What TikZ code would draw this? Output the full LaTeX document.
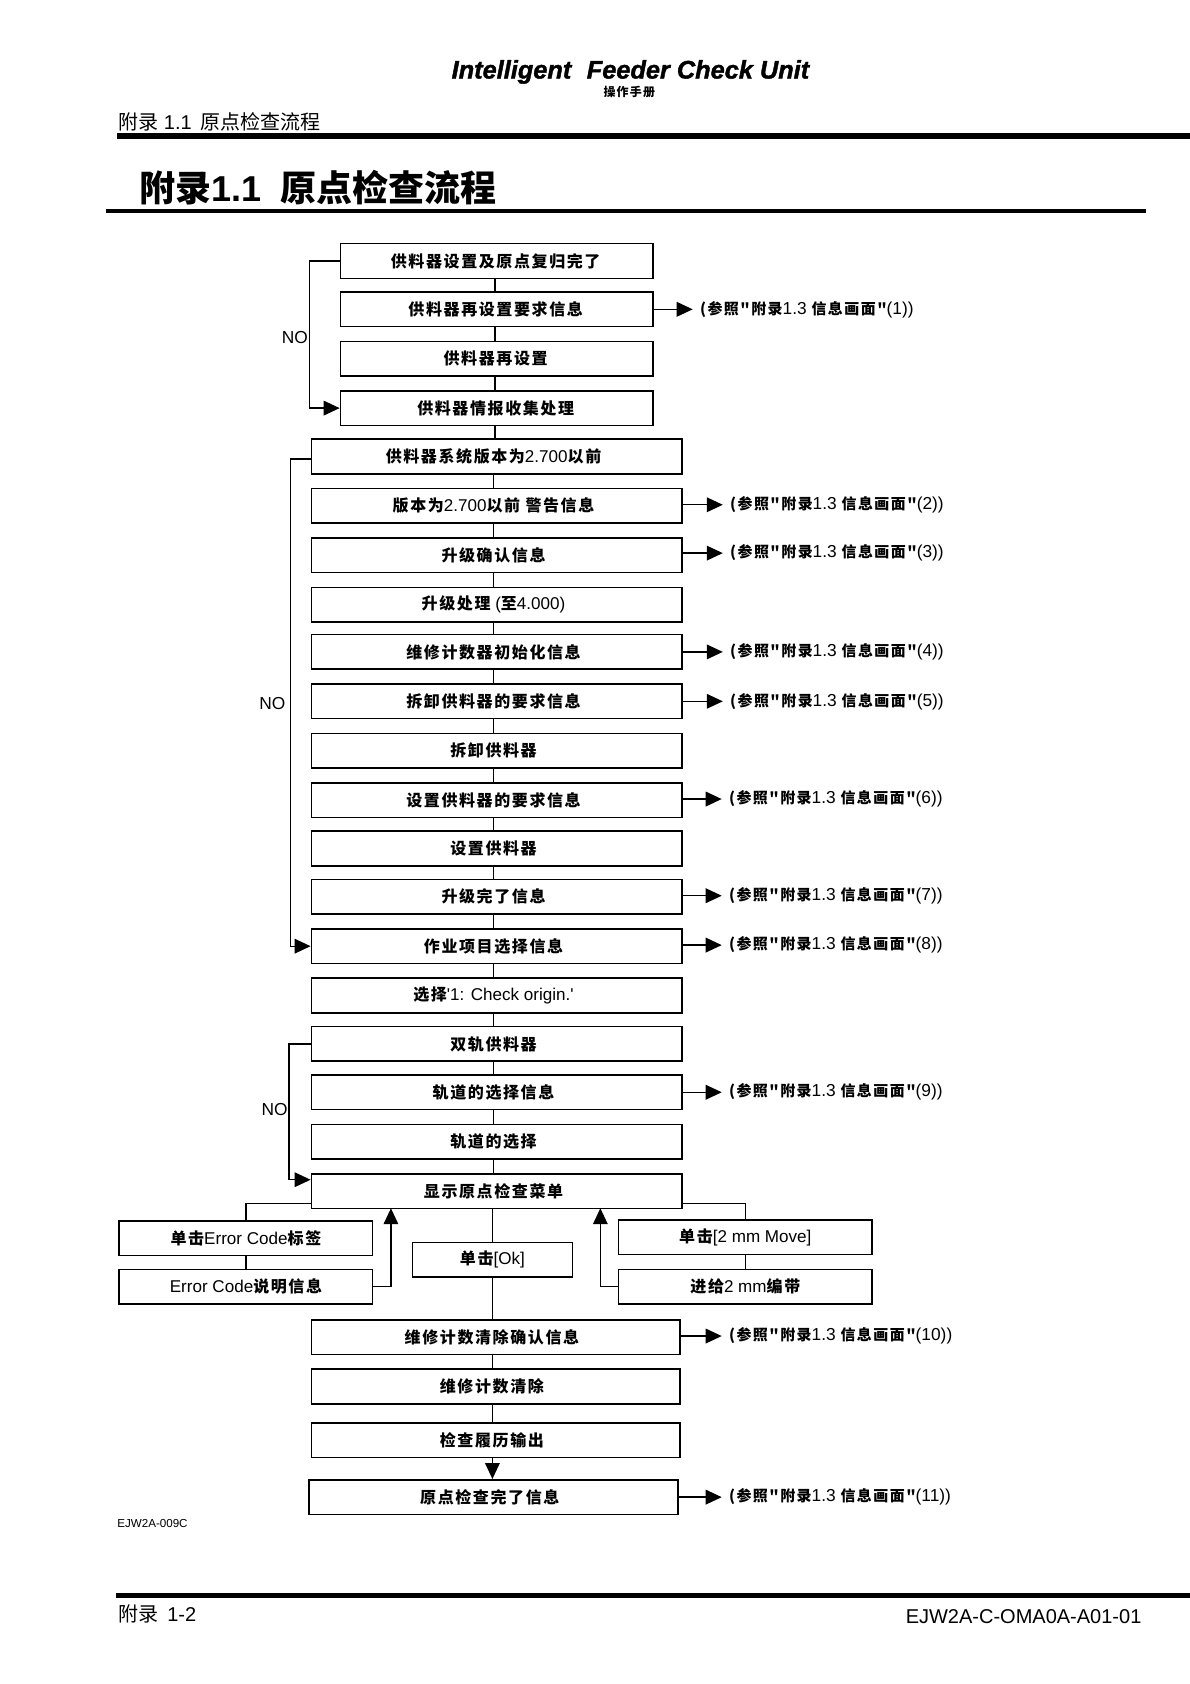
\documentclass[tikz,border=0pt]{standalone}
\usepackage{fontspec}
\setmainfont{Liberation Sans}[Ligatures=TeXOff]
\newfontfamily\cjkplain{Noto Sans CJK SC}
\newfontfamily\cjkwide[LetterSpace=10]{Noto Sans CJK SC}
\newcommand{\cn}[1]{{\fontsize{12}{14}\cjkwide\bfseries #1}}
\newcommand{\cnr}[1]{{\fontsize{11.2}{13}\cjkwide\bfseries #1}}
\newcommand{\reftxt}[1]{\cnr{(参照"附录}1.3 \cnr{信息画面"}(#1))}
\usetikzlibrary{arrows.meta}
\tikzset{
  box/.style={draw,line width=1.2pt,minimum height=26pt,inner sep=0pt,fill=white,font=\fontsize{12.8}{14}\selectfont},
  boxa/.style={box,minimum width=234.4pt,execute at end node={\hspace{1.6pt}}},
  boxb/.style={box,minimum width=278pt,execute at end node={\hspace{4.8pt}}},
  boxc/.style={box,minimum width=190pt},
  boxd/.style={box,minimum width=276.5pt,execute at end node={\hspace{5.6pt}}},
  boxok/.style={box,minimum width=120pt},
  reftext/.style={anchor=west,inner sep=0pt,outer sep=5.5pt,font=\fontsize{13}{15}\selectfont},
  notext/.style={anchor=east,inner sep=0pt,font=\fontsize{13}{15}\selectfont},
  line/.style={line width=1pt},
  arrow/.style={line width=1pt,-{Triangle[length=12pt,width=11pt]}}
}
\begin{document}
\begin{tikzpicture}[x=0.8055pt,y=-0.8055pt]
        \useasboundingbox (0,0) rectangle (1108,1568);
        % page head
        \node[inner sep=0pt,font=\fontsize{19}{21}\bfseries\itshape\selectfont\addfontfeature{FakeBold=1.5}] (head) at (587,67) {Intelligent\, \,Feeder Check Unit};
        \node[inner sep=0pt,font=\fontsize{9}{10}\selectfont] (manual) at (586,86) {{\fontsize{9}{10}\cjkwide\bfseries 操作手册}};
        \node[anchor=west,inner sep=0pt,font=\fontsize{15}{17}\selectfont] (headleft) at (110,113) {{\cjkplain 附录} 1.1\, {\cjkplain 原点检查流程}};
        \fill (109,124) rectangle (1108,129);
        \node[anchor=west,inner sep=0pt,font=\fontsize{27}{30}\selectfont] (title) at (130,175) {{\cjkplain\bfseries 附录}\textbf{1.1}\hspace{6.5pt} {\cjkplain\bfseries 原点检查流程}};
        \fill (99,195) rectangle (1067,198);
        % first block
        \node[boxa] (a1) at (462.5,243) {\cn{供料器设置及原点复归完了}};
        \node[boxa] (a2) at (462.5,288) {\cn{供料器再设置要求信息}};
        \node[boxa] (a3) at (462.5,334) {\cn{供料器再设置}};
        \node[boxa] (a4) at (462.5,380) {\cn{供料器情报收集处理}};
        % second block
        \node[boxb] (b1) at (462.5,425) {\cn{供料器系统版本为}2.700\cn{以前}};
        \node[boxb] (b2) at (462.5,471) {\cn{版本为}2.700\cn{以前 警告信息}};
        \node[boxb] (b3) at (462.5,517) {\cn{升级确认信息}};
        \node[boxb] (b4) at (462.5,563) {\cn{升级处理} (\cn{至}4.000)};
        \node[boxb] (b5) at (462.5,607) {\cn{维修计数器初始化信息}};
        \node[boxb] (b6) at (462.5,653) {\cn{拆卸供料器的要求信息}};
        \node[boxb] (b7) at (462.5,699) {\cn{拆卸供料器}};
        \node[boxb] (b8) at (462.5,745) {\cn{设置供料器的要求信息}};
        \node[boxb] (b9) at (462.5,790) {\cn{设置供料器}};
        \node[boxb] (b10) at (462.5,835) {\cn{升级完了信息}};
        \node[boxb] (b11) at (462.5,881) {\cn{作业项目选择信息}};
        \node[boxb] (b12) at (462.5,927) {\cn{选择}'1: Check origin.'};
        % third block
        \node[boxb] (c1) at (462.5,972) {\cn{双轨供料器}};
        \node[boxb] (c2) at (462.5,1017) {\cn{轨道的选择信息}};
        \node[boxb] (c3) at (462.5,1063) {\cn{轨道的选择}};
        \node[boxb] (c4) at (462.5,1109) {\cn{显示原点检查菜单}};
        % side boxes
        \node[boxc] (l1) at (229,1153) {\cn{单击}Error Code\cn{标签}};
        \node[boxc] (l2) at (229,1198) {Error Code\cn{说明信息}};
        \node[boxok] (ok) at (458.5,1173) {\cn{单击}[Ok]};
        \node[boxc] (r1) at (694,1152) {\cn{单击}[2 mm Move]};
        \node[boxc] (r2) at (694,1198) {\cn{进给}2 mm\cn{编带}};
        % last block
        \node[boxd] (d1) at (461.5,1245) {\cn{维修计数清除确认信息}};
        \node[boxd] (d2) at (461.5,1291) {\cn{维修计数清除}};
        \node[boxd] (d3) at (461.5,1341) {\cn{检查履历输出}};
        \node[boxd] (d4) at (459.5,1394) {\cn{原点检查完了信息}};
        % remarks
        \node[notext] (no1) at (287,314) {NO};
        \node[notext] (no2) at (266,655) {NO};
        \node[notext] (no3) at (268,1033) {NO};
        \node[anchor=west,inner sep=0pt,font=\fontsize{8.7}{9}\selectfont] (code) at (109,1419) {EJW2A-009C};
        % references
        \foreach \from/\xx/\yy/\num in {a2/645/288/1,b2/673/470/2,b3/673/515/3,b5/673/607/4,b6/673/653/5,b8/672/744/6,b10/672/834/7,b11/672/880/8,c2/672/1017/9,d1/672/1244/10,d4/672/1394/11}{
          \node[reftext] (ref\num) at (\xx,\yy) {\reftxt{\num}};
          \draw[arrow] (ref\num.west -| \from.east) -- (ref\num.west);
        }
        % straight connectors
        \coordinate (spinea) at (461,0);
        \coordinate (spineb) at (459.5,0);
        \coordinate (spined) at (458.5,0);
        \foreach \a/\b in {a1/a2,a2/a3,a3/a4,a4/b1}
          \draw[line] (\a.south -| spinea) -- (\b.north -| spinea);
        \foreach \a/\b in {b1/b2,b2/b3,b3/b4,b4/b5,b5/b6,b6/b7,b7/b8,b8/b9,b9/b10,b10/b11,b11/b12,b12/c1,c1/c2,c2/c3,c3/c4}
          \draw[line] (\a.south -| spineb) -- (\b.north -| spineb);
        \foreach \a/\b in {l1/l2,r1/r2}
          \draw[line] (\a) -- (\b);
        \draw[line] (d1.south -| spined) -- (d2.north -| spined);
        \draw[line] (d2.south -| spined) -- (d3.north -| spined);
        \draw[arrow] (d3.south -| spined) -- (d4.north -| spined);
        % loops
        \draw[arrow] (a1.west) -- ++(-28,0) |- (a4.west);
        \draw[arrow] ([yshift=-2pt]b1.west) -- ++(-19,0) |- (b11.west);
        \draw[arrow] (c1.west) -- ++(-20,0) |- ([yshift=8.5pt]c4.west);
        % around the menu
        \draw[line] (c4.south -| spined) -- (ok.north -| spined);
        \draw[line] (ok.south -| spined) -- (d1.north -| spined);
        \draw[line] ([yshift=-9.5pt]c4.west) -| (l1.north);
        \draw[line] ([yshift=-9.5pt]c4.east) -| (r1.north);
        \coordinate (upleft) at (364,1125);
        \coordinate (upright) at (559,1125);
        \draw[arrow] (l2.east) -| (upleft);
        \draw[arrow] (r2.west) -| (upright);
        % page foot
        \fill (108,1483) rectangle (1108,1488);
        \node[anchor=west,inner sep=0pt,font=\fontsize{15}{17}\selectfont] (footleft) at (110,1503) {{\cjkplain 附录} \,1-2};
        \node[anchor=east,inner sep=0pt,font=\fontsize{15}{17}\selectfont] (footright) at (1063,1505) {EJW2A-C-OMA0A-A01-01};
\end{tikzpicture}
\end{document}
